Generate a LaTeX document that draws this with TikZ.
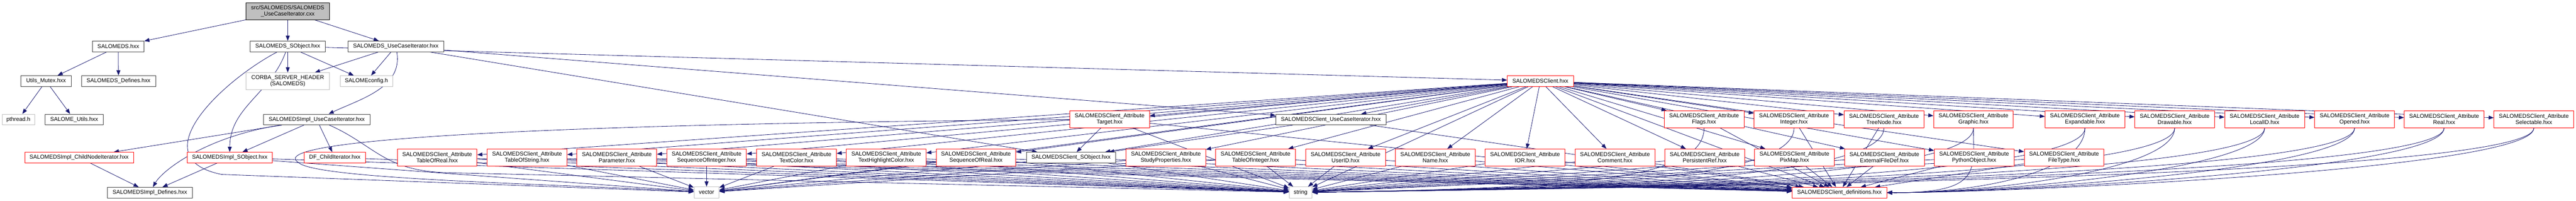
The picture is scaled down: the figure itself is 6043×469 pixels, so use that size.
\documentclass[tikz,border=0pt]{standalone}
\usepackage{fontspec}
\setmainfont{Liberation Sans}
\usetikzlibrary{arrows.meta}
\definecolor{edgeblue}{HTML}{191970}
\definecolor{truncred}{HTML}{FF0000}
\definecolor{sysgrey}{HTML}{BFBFBF}
\definecolor{filegrey}{HTML}{404040}
\pgfdeclarelayer{edges}
\pgfsetlayers{edges,main}
\tikzset{
  file/.style={draw=filegrey, line width=1pt, fill=white, inner sep=0pt,
    minimum height=25pt, align=center, font=\fontsize{13.2}{14.5}\selectfont},
  sys/.style={file, draw=sysgrey},
  trunc/.style={file, draw=truncred},
  attr/.style={trunc, minimum width=187pt, minimum height=40pt},
  dep/.style={draw=edgeblue, line width=1pt, -{Triangle[length=12pt,width=9pt]}},
}

\begin{document}
\begin{tikzpicture}[x=1pt,y=-1pt]
  \useasboundingbox (0,0) rectangle (6043,469);
  \node[file, fill=sysgrey, draw=black, minimum width=196pt, minimum height=40pt] (main) at (675,26) {src/SALOMEDS/SALOMEDS\\\_UseCaseIterator.cxx};
  \node[file, minimum width=121pt] (ds) at (277.5,108.5) {SALOMEDS.hxx};
  \node[file, minimum width=176pt] (dsSObj) at (675,108.5) {SALOMEDS\_SObject.hxx};
  \node[file, minimum width=225pt] (dsUCI) at (928.5,108.5) {SALOMEDS\_UseCaseIterator.hxx};
  \node[file, minimum width=118pt] (mutex) at (108,189.5) {Utils\_Mutex.hxx};
  \node[file, minimum width=174pt] (dsDefs) at (278,189.5) {SALOMEDS\_Defines.hxx};
  \node[sys, minimum width=196pt, minimum height=40pt] (corba) at (675,190) {CORBA\_SERVER\_HEADER\\(SALOMEDS)};
  \node[sys, minimum width=123pt] (config) at (859.5,189.5) {SALOMEconfig.h};
  \node[trunc, minimum width=155pt] (client) at (3613.5,189.5) {SALOMEDSClient.hxx};
  \node[sys, minimum width=76pt] (pthread) at (43,279.5) {pthread.h};
  \node[file, minimum width=136pt] (utils) at (174,279.5) {SALOME\_Utils.hxx};
  \node[file, minimum width=250pt] (implUCI) at (743,279.5) {SALOMEDSImpl\_UseCaseIterator.hxx};
  \node[file, minimum width=258pt] (clUCI) at (3122,279.5) {SALOMEDSClient\_UseCaseIterator.hxx};
  \node[trunc, minimum width=255pt] (childNode) at (185.5,368.5) {SALOMEDSImpl\_ChildNodeIterator.hxx};
  \node[trunc, minimum width=200pt] (implSObj) at (539,368.5) {SALOMEDSImpl\_SObject.hxx};
  \node[trunc, minimum width=143pt] (dfChild) at (785.5,368.5) {DF\_ChildIterator.hxx};
  \node[file, minimum width=209pt] (clSObj) at (2512.5,368.5) {SALOMEDSClient\_SObject.hxx};
  \node[file, minimum width=199pt] (implDefs) at (351.5,450.5) {SALOMEDSImpl\_Defines.hxx};
  \node[sys, minimum width=59pt, minimum height=26pt] (vector) at (1657.5,450) {vector};
  \node[sys, minimum width=54pt, minimum height=26pt] (string) at (3051,450) {string};
  \node[trunc, minimum width=222pt] (defs) at (4315,450.5) {SALOMEDSClient\_definitions.hxx};
  \foreach \a/\x in {Target/2603, Flags/3997.5, Integer/4208.5, TreeNode/4419.5, Graphic/4629.5,
      Expandable/4891, Drawable/5101.5, LocalID/5312.5, Opened/5523.5, Real/5733.5, Selectable/5944} {
    \node[attr] (\a) at (\x,279) {SALOMEDSClient\_Attribute\\\a.hxx};
  };
  \foreach \a/\x in {TableOfReal/1025.5, TableOfString/1236.5, Parameter/1447, SequenceOfInteger/1657.5,
      TextColor/1868.5, TextHighlightColor/2079, SequenceOfReal/2289.5, StudyProperties/2735,
      TableOfInteger/2945.5, UserID/3156.5, Name/3367, IOR/3577.5, Comment/3788.5, PersistentRef/3999,
      PixMap/4209.5, ExternalFileDef/4420.5, PythonObject/4631, FileType/4842} {
    \node[attr] (\a) at (\x,368.5) {SALOMEDSClient\_Attribute\\\a.hxx};
  };
  \begin{pgfonlayer}{edges}
    \foreach \i/\j in {main/ds, main/dsSObj, main/dsUCI, ds/mutex, ds/dsDefs, mutex/pthread, mutex/utils,
        dsSObj/corba, dsSObj/config, dsSObj/client, dsUCI/corba, dsUCI/config, dsUCI/clUCI, dsUCI/clSObj,
        implUCI/implSObj, implUCI/dfChild, implUCI/childNode, childNode/implDefs, implSObj/implDefs,
        implSObj/string, implSObj/vector, dfChild/string, Target/clSObj, clUCI/clSObj, clUCI/defs,
        clSObj/defs, clSObj/string, clSObj/vector, client/clUCI, client/clSObj, client/defs,
        client/string, client/vector, Target/defs, Target/string, Flags/defs, Integer/defs, TreeNode/defs} {
      \path (\i) edge[dep] (\j);
    };
    \foreach \a in {Target, Flags, Integer, TreeNode, Graphic, Expandable, Drawable, LocalID, Opened,
        Real, Selectable, TableOfReal, TableOfString, Parameter, SequenceOfInteger, TextColor,
        TextHighlightColor, SequenceOfReal, StudyProperties, TableOfInteger, UserID, Name, IOR, Comment,
        PersistentRef, PixMap, ExternalFileDef, PythonObject, FileType} {
      \path (client) edge[dep] (\a);
    };
    \foreach \a in {TableOfReal, TableOfString, Parameter, SequenceOfInteger, TextColor,
        TextHighlightColor, SequenceOfReal, StudyProperties, TableOfInteger, UserID, Name, IOR, Comment,
        PersistentRef, PixMap, ExternalFileDef, PythonObject, FileType} {
      \path (\a) edge[dep] (defs);
      \path (\a) edge[dep] (string);
    };
    \foreach \a in {TableOfReal, TableOfString, Parameter, SequenceOfInteger, TextColor,
        TextHighlightColor, SequenceOfReal, StudyProperties, TableOfInteger} {
      \path (\a) edge[dep] (vector);
    };
    \foreach \a in {Graphic, Expandable, Drawable, LocalID, Opened, Real, Selectable} {
      \draw[dep] (\a.south) .. controls +(0,100) and (4650,452) .. (defs.east);
    };
    \foreach \a in {Flags, Integer, TreeNode, Graphic, Expandable, Drawable, LocalID, Opened, Real, Selectable} {
      \draw[dep] (\a.south) .. controls +(0,120) and (3700,440) .. (string.east);
    };
    \draw[dep] (dsSObj) to[out=-110,in=90] (implSObj);
    \draw[dep] (dsUCI) to[out=-80,in=25] (implUCI);
    \draw[dep] (dsSObj) .. controls (520,190) and (330,370) .. (520,408) -- (vector);
    \draw[dep] (implUCI) .. controls (480,320) and (380,400) .. (implDefs);
    \draw[dep] (implUCI) .. controls (880,340) and (900,400) .. (1050,404) -- (string);
    \draw[dep] (Target) .. controls (1200,290) and (620,330) .. (700,380) .. controls (740,420) and (1300,430) .. (vector);
  \end{pgfonlayer}
\end{tikzpicture}
\end{document}
